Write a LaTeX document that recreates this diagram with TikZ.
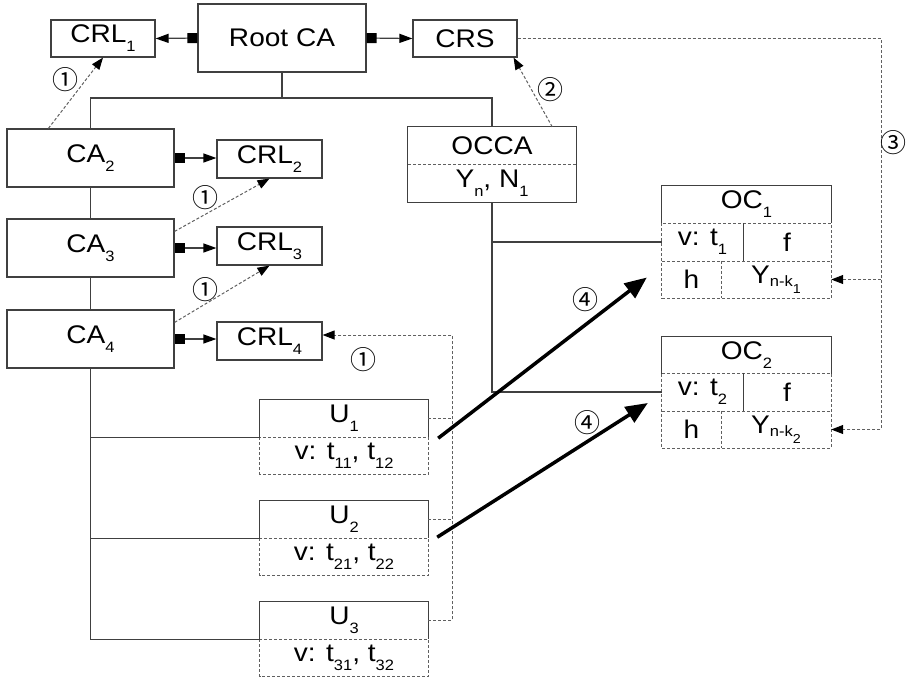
\documentclass[tikz,border=0pt]{standalone}
\usepackage{fontspec}
\setmainfont[FakeStretch=1.1]{Liberation Sans}
\newfontfamily\circfont{Noto Sans CJK SC}
\usetikzlibrary{arrows.meta,calc}
\definecolor{boxgray}{HTML}{404040}
\definecolor{dashgray}{HTML}{606060}
\newcommand\lowidx[1]{\raisebox{-9pt}{\fontsize{15}{15}\selectfont #1}}
\newcommand\ysubb[2]{Y\raisebox{-3pt}{\fontsize{15}{15}\selectfont #1\raisebox{-7pt}{\fontsize{13}{13}\selectfont #2}}}
\begin{document}
\begin{tikzpicture}[x=1pt,y=-1pt,
  lbl/.style={font=\fontsize{25.5}{25.5}\selectfont},
  box/.style={draw=boxgray, line width=1.2pt, inner sep=0pt, lbl},
  cell/.style={inner sep=0pt, minimum height=37pt, lbl},
  frame/.style={draw=boxgray, line width=1.2pt},
  conn/.style={draw=boxgray, line width=1.2pt},
  dline/.style={draw=dashgray, line width=1pt, dash pattern=on 3pt off 2pt},
  sqarrow/.style={conn, {Square[length=10pt,width=10pt,color=black,fill=black]}-{Triangle[length=13pt,width=9pt,color=black,fill=black]}},
  darrow/.style={dline, -{Triangle[length=12pt,width=9pt,color=black,fill=black]}},
  bigarrow/.style={draw=black, line width=3.5pt, -{Triangle[length=22pt,width=18pt]}},
  num/.style={font=\circfont\fontsize{26}{26}\selectfont, inner sep=0pt},
]
\useasboundingbox (0,0) rectangle (909,681);

% top level
\node[box, minimum width=168pt, minimum height=68pt] (root) at (282,38) {Root CA};
\node[box, minimum width=104pt, minimum height=37pt] (crl1) at (103,38.5) {CRL\lowidx{1}};
\node[box, minimum width=104pt, minimum height=37pt] (crs) at (465,38.5) {CRS};

% CA chain
\node[box, minimum width=167pt, minimum height=58pt] (ca2) at (90.5,158) {CA\lowidx{2}};
\node[box, minimum width=167pt, minimum height=58pt] (ca3) at (90.5,248) {CA\lowidx{3}};
\node[box, minimum width=167pt, minimum height=58pt] (ca4) at (90.5,339) {CA\lowidx{4}};
\node[box, minimum width=105pt, minimum height=38pt] (crl2) at (269.5,159) {CRL\lowidx{2}};
\node[box, minimum width=105pt, minimum height=38pt] (crl3) at (269.5,246) {CRL\lowidx{3}};
\node[box, minimum width=105pt, minimum height=38pt] (crl4) at (269.5,341) {CRL\lowidx{4}};

% OCCA
\node[cell, minimum width=168pt] (occat) at (492,145.5) {OCCA};
\node[cell, minimum width=168pt, minimum height=38pt] (occab) at (492,183) {Y\lowidx{n}, N\lowidx{1}};
\draw[frame] (occat.north west) rectangle (occab.south east);
\draw[dline] (occat.south west) -- (occat.south east);

% OC1
\node[cell, minimum width=169pt] (oc1t) at (746.5,204.5) {OC\lowidx{1}};
\node[cell, minimum width=81pt, minimum height=38pt] (oc1v) at (702.5,242) {v: t\lowidx{1}};
\node[cell, minimum width=88pt, minimum height=38pt] (oc1f) at (787,242) {f};
\node[cell, minimum width=59pt] (oc1h) at (691.5,279.5) {h};
\node[cell, minimum width=110pt] (oc1y) at (776,279.5) {\ysubb{n-k}{1}};
\draw[frame] (oc1t.south west) |- (oc1t.north east) -- (oc1t.south east);
\draw[dline] (oc1t.south west) rectangle (oc1y.south east);
\draw[dline] (oc1v.south west) -- (oc1f.south east);
\draw[frame] (oc1v.north east) -- (oc1v.south east);
\draw[dline] (oc1h.north east) -- (oc1h.south east);

% OC2
\node[cell, minimum width=169pt] (oc2t) at (746.5,355) {OC\lowidx{2}};
\node[cell, minimum width=81pt, minimum height=38pt] (oc2v) at (702.5,392) {v: t\lowidx{2}};
\node[cell, minimum width=88pt, minimum height=38pt] (oc2f) at (787,392) {f};
\node[cell, minimum width=59pt] (oc2h) at (691.5,429.5) {h};
\node[cell, minimum width=110pt] (oc2y) at (776,429.5) {\ysubb{n-k}{2}};
\draw[frame] (oc2t.south west) |- (oc2t.north east) -- (oc2t.south east);
\draw[dline] (oc2t.south west) rectangle (oc2y.south east);
\draw[dline] (oc2v.south west) -- (oc2f.south east);
\draw[frame] (oc2v.north east) -- (oc2v.south east);
\draw[dline] (oc2h.north east) -- (oc2h.south east);

% Users
\node[cell, minimum width=168pt] (u1t) at (344,418.5) {U\lowidx{1}};
\node[cell, minimum width=168pt] (u1b) at (344,455.5) {v: t\lowidx{11}, t\lowidx{12}};
\draw[frame] (u1t.south west) |- (u1t.north east) -- (u1t.south east);
\draw[dline] (u1t.south west) rectangle (u1b.south east);
\node[cell, minimum width=168pt] (u2t) at (344,519.5) {U\lowidx{2}};
\node[cell, minimum width=168pt] (u2b) at (344,557) {v: t\lowidx{21}, t\lowidx{22}};
\draw[frame] (u2t.south west) |- (u2t.north east) -- (u2t.south east);
\draw[dline] (u2t.south west) rectangle (u2b.south east);
\node[cell, minimum width=168pt] (u3t) at (344,620.5) {U\lowidx{3}};
\node[cell, minimum width=168pt] (u3b) at (344,658) {v: t\lowidx{31}, t\lowidx{32}};
\draw[frame] (u3t.south west) |- (u3t.north east) -- (u3t.south east);
\draw[dline] (u3t.south west) rectangle (u3b.south east);

% solid connectors
\coordinate (j0) at (282,98);
\draw[sqarrow] (root.west) -- (crl1.east);
\draw[sqarrow] (root.east) -- (crs.west);
\draw[conn] (root.south) -- (j0);
\draw[conn] (ca2.north) |- (j0) -| (occat.north);
\draw[conn] (ca2.south) -- (ca3.north);
\draw[conn] (ca3.south) -- (ca4.north);
\draw[sqarrow] (ca2.east) -- (ca2.east -| crl2.west);
\draw[sqarrow] (ca3.east) -- (ca3.east -| crl3.west);
\draw[sqarrow] (ca4.east) -- (ca4.east -| crl4.west);
\draw[conn] (ca4.south) |- (u3t.south west);
\draw[conn] (ca4.south |- u1t.south) -- (u1t.south west);
\draw[conn] (ca4.south |- u2t.south) -- (u2t.south west);
\draw[conn] (occab.south) |- (oc2v.west);
\draw[conn] (occab.south |- oc1v.west) -- (oc1v.west);

% dashed connectors
\draw[darrow] ($(ca2.north west)+(42,0)$) -- (crl1.south);
\draw[darrow] ($(ca3.north east)+(0,13)$) -- (crl2.south);
\draw[darrow] ($(ca4.north east)+(0,13)$) -- (crl3.south);
\draw[darrow] ($(occat.north east)+(-24,0)$) -- ($(crs.south east)+(-4,0)$);
\coordinate (dr) at (881,0);
\draw[darrow] (crs.east) -- (crs.east -| dr) |- (oc2y.east);
\draw[darrow] (dr |- oc1y.east) -- (oc1y.east);
\coordinate (dl) at (452,0);
\coordinate (c4) at ($(crl4.east)+(0,-6)$);
\draw[darrow] (u3t.east) -| (dl |- c4) -- (c4);
\draw[dline] (u1t.east) -- (u1t.east -| dl);
\draw[dline] (u2t.east) -- (u2t.east -| dl);

% thick arrows
\draw[bigarrow] ($(u1t.south east)+(10,1)$) -- ($(oc1h.west)+(-15,-2)$);
\draw[bigarrow] ($(u2t.south east)+(9,-1)$) -- ($(oc2v.west)+(-14,11)$);

% labels
\node[num] (n1a) at (65,80) {①};
\node[num] (n1b) at (205,198) {①};
\node[num] (n1c) at (205,290) {①};
\node[num] (n1d) at (363,360) {①};
\node[num] (n2) at (550,90) {②};
\node[num] (n3) at (893,143) {③};
\node[num] (n4a) at (585,300) {④};
\node[num] (n4b) at (587,423) {④};
\end{tikzpicture}
\end{document}
